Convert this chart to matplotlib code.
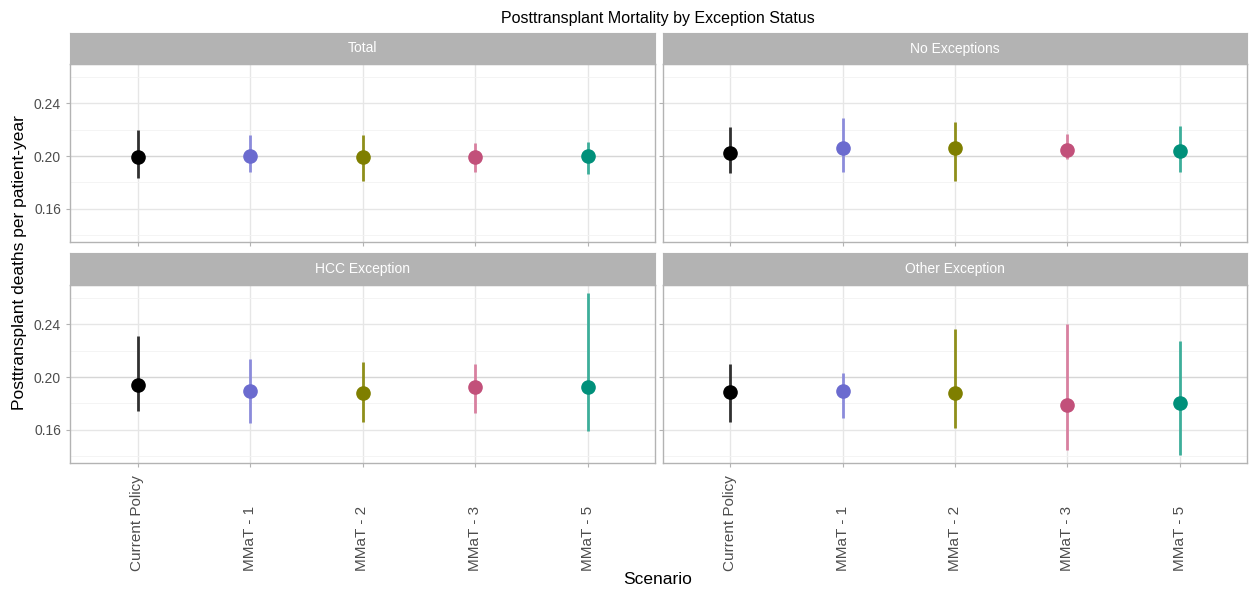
import matplotlib
matplotlib.use("Agg")
import matplotlib.pyplot as plt
import matplotlib.transforms as mtransforms
import numpy as np

plt.rcParams['font.family'] = ['Liberation Sans', 'DejaVu Sans']

scenarios = ["Current Policy", "MMaT - 1", "MMaT - 2", "MMaT - 3", "MMaT - 5"]
panels = ["Total", "No Exceptions", "HCC Exception", "Other Exception"]
colors = ["#000000", "#6B6BCF", "#7F7F00", "#C2507A", "#00907A"]
bar_colors = ["#303030", "#8B8BDB", "#8F8F1A", "#D880A0", "#3DAE9A"]

total_est = [0.199, 0.2003, 0.1995, 0.1995, 0.2003]
total_lo = [0.1834, 0.188, 0.1814, 0.188, 0.1864]
total_hi = [0.220, 0.2159, 0.216, 0.2098, 0.2108]

noexc_est = [0.202, 0.206, 0.2058, 0.2048, 0.204]
noexc_lo = [0.187, 0.1877, 0.181, 0.198, 0.1877]
noexc_hi = [0.2224, 0.2292, 0.2259, 0.2166, 0.2229]

hcc_est = [0.194, 0.1897, 0.1877, 0.1922, 0.1927]
hcc_lo = [0.1746, 0.1655, 0.166, 0.1726, 0.1595]
hcc_hi = [0.2312, 0.2134, 0.2116, 0.2103, 0.2637]

other_est = [0.1889, 0.1894, 0.1877, 0.1789, 0.1806]
other_lo = [0.1657, 0.1688, 0.1612, 0.1449, 0.141]
other_hi = [0.2103, 0.2033, 0.2362, 0.240, 0.2272]

data = {
    "Total": (total_est, total_lo, total_hi),
    "No Exceptions": (noexc_est, noexc_lo, noexc_hi),
    "HCC Exception": (hcc_est, hcc_lo, hcc_hi),
    "Other Exception": (other_est, other_lo, other_hi),
}

all_lo = min(min(v[1]) for v in data.values())
all_hi = max(max(v[2]) for v in data.values())
rng = all_hi - all_lo
ylim = (all_lo - 0.05 * rng, all_hi + 0.05 * rng)

W, H = 1249, 594
fig = plt.figure(figsize=(W / 100, H / 100), dpi=100)

lefts = [70, 663]
rights = [655, 1247]
panel_tops = [64, 285]
panel_bots = [242, 463]
strip_tops = [33, 253]

def fx(px):
    return px / W

def fy(py):
    return 1 - py / H

x = np.arange(1, len(scenarios) + 1)
border = "#B3B3B3"
for i, name in enumerate(panels):
    r, c = divmod(i, 2)
    l, rr = lefts[c], rights[c]
    t, b = panel_tops[r], panel_bots[r]
    ax = fig.add_axes([fx(l), fy(b), fx(rr - l), fy(t) - fy(b)])
    est, lo, hi = data[name]
    ax.set_xlim(0.4, len(scenarios) + 0.6)
    ax.set_ylim(*ylim)
    ax.set_yticks([0.16, 0.20, 0.24])
    ax.set_yticks([0.14, 0.18, 0.22, 0.26], minor=True)
    ax.set_xticks(x)
    ax.grid(True, which="major", color="#E6E6E6", linewidth=1.0)
    ax.grid(True, which="minor", axis="y", color="#F2F2F2", linewidth=0.6)
    ax.get_ygridlines()[1].set_color("#D6D6D6")
    ax.set_axisbelow(True)
    for k in range(len(scenarios)):
        ax.vlines(x[k], lo[k], hi[k], color=bar_colors[k], linewidth=2.0, zorder=2)
        ax.plot(x[k], est[k], "o", color=colors[k], markersize=9.5, zorder=3)
    for s in ax.spines.values():
        s.set_color(border)
        s.set_linewidth(1.0)
    ax.tick_params(which="both", color=border, length=3, labelsize=10, labelcolor="#4D4D4D")
    ax.tick_params(which="minor", length=0)
    ax.set_xticklabels([])
    if r == 1:
        trans = mtransforms.blended_transform_factory(ax.transData, fig.transFigure)
        for k in range(len(scenarios)):
            ax.text(x[k], fy(571), scenarios[k], rotation=90, ha="center", va="bottom",
                    fontsize=11, color="#4D4D4D", transform=trans)
    if c == 0:
        ax.set_yticklabels(["0.16", "0.20", "0.24"])
    else:
        ax.set_yticklabels([])
    # strip
    st = strip_tops[r]
    sax = fig.add_axes([fx(l), fy(t), fx(rr - l), fy(st) - fy(t)])
    sax.set_facecolor("#B3B3B3")
    sax.set_xticks([]); sax.set_yticks([])
    for s in sax.spines.values():
        s.set_color(border)
    sax.text(0.5, 0.5, name, color="white", fontsize=10, ha="center", va="center",
             transform=sax.transAxes)

fig.text(fx(658), fy(18), "Posttransplant Mortality by Exception Status", ha="center",
         va="center", fontsize=11.5, color="black")
fig.text(fx(20), fy(263), "Posttransplant deaths per patient-year", rotation=90,
         ha="center", va="center", fontsize=12.5, color="black")
fig.text(fx(658), fy(580), "Scenario", ha="center", va="center", fontsize=12.5, color="black")

fig.savefig("out.png", dpi=100)
